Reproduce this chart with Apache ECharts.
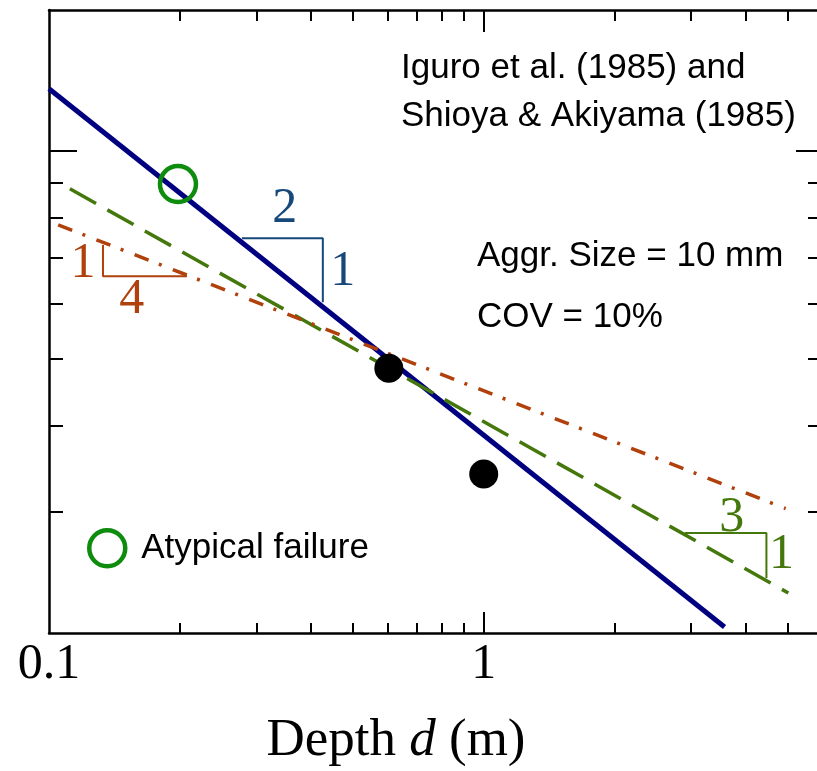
<!DOCTYPE html>
<html>
<head>
<meta charset="utf-8">
<script src="https://cdn.jsdelivr.net/npm/echarts@6/dist/echarts.min.js"></script>
<style>html,body{margin:0;padding:0;background:#fff;overflow:hidden;}#c{width:817px;height:771px;}</style>
</head>
<body>
<div id="c"></div>
<script>
// ---- axis ranges and tick values ----
const xRange = [0.1, 6];
const yRange = [0.2, 1.6];
const xLabelTicks = [0.1, 1];
const xMajorTicks = [1];
const xMinorTicks = [0.2, 0.3, 0.4, 0.5, 0.6, 0.7, 0.8, 0.9, 2, 3, 4, 5];
const yMajorTicks = [1];
const yMinorTicks = [0.3, 0.4, 0.5, 0.6, 0.7, 0.8, 0.9];

// ---- data (depth in m, normalized strength) ----
const slope2Line = [[0.1, 1.23], [3.58, 0.204]];      // solid navy, slope -1/2
const slope3Line = [[0.1117, 0.881], [5.02, 0.2286]]; // dashed green, slope -1/3
const slope4Line = [[0.105, 0.781], [4.95, 0.303]];   // dash-dot red, slope -1/4
const testPoints = [[0.605, 0.484], [1.0, 0.340]];
const atypicalPoints = [[0.198, 0.895]];

// slope triangles
const tri2 = [[0.2778, 0.747], [0.4265, 0.747], [0.4265, 0.6034]];
const tri4 = [[0.1331, 0.730], [0.1331, 0.658], [0.2077, 0.658]];
const tri3 = [[2.90, 0.2793], [4.47, 0.2793], [4.47, 0.2403]];
const tri2Labels = [{name: '2', value: [0.3487, 0.823]}, {name: '1', value: [0.474, 0.667]}];
const tri4Labels = [{name: '1', value: [0.1197, 0.685]}, {name: '4', value: [0.1551, 0.609]}];
const tri3Labels = [{name: '3', value: [3.72, 0.2938]}, {name: '1', value: [4.84, 0.2596]}];

const SANS = '"Liberation Sans", Arial, sans-serif';
const SERIF = '"Liberation Serif", "Times New Roman", serif';

function xAx(position, len, ticks, showLine, labels) {
  return {
    type: 'log', logBase: 10, position: position, min: xRange[0], max: xRange[1], offset: 0,
    axisLine: {show: showLine, onZero: false, lineStyle: {color: '#000', width: 2.5}},
    axisTick: {show: true, inside: true, length: len, customValues: ticks, lineStyle: {color: '#000', width: 2}},
    axisLabel: labels ? {show: true, customValues: labels, margin: 7, color: '#000', fontFamily: SERIF, fontSize: 50,
      formatter: function (v) { return String(+v.toPrecision(3)); }} : {show: false},
    splitLine: {show: false}, minorTick: {show: false}, minorSplitLine: {show: false}
  };
}
function yAx(position, len, ticks, showLine) {
  return {
    type: 'log', logBase: 10, position: position, min: yRange[0], max: yRange[1], offset: 0,
    axisLine: {show: showLine, onZero: false, lineStyle: {color: '#000', width: 2.5}},
    axisTick: {show: true, inside: true, length: len, customValues: ticks, lineStyle: {color: '#000', width: 2}},
    axisLabel: {show: false},
    splitLine: {show: false}, minorTick: {show: false}, minorSplitLine: {show: false}
  };
}

function lineSeries(data, color, width, type) {
  return {type: 'line', data: data, xAxisIndex: 0, yAxisIndex: 0, symbol: 'none', showSymbol: false,
    silent: true, lineStyle: {color: color, width: width, type: type, opacity: 1}, z: 3};
}
function labelSeries(data, color) {
  return {type: 'scatter', data: data, xAxisIndex: 0, yAxisIndex: 0, symbolSize: 0, silent: true, z: 6,
    itemStyle: {opacity: 1},
    label: {show: true, position: 'inside', formatter: '{b}', color: color, opacity: 1, fontFamily: SERIF, fontSize: 50}};
}

const BLUE = '#000080', GREEN = '#45780c', RED = '#b0400c', TRIBLUE = '#17487a', CIRC = '#0e8c0e';

const chart = echarts.init(document.getElementById('c'), null, {renderer: 'canvas'});
chart.setOption({
  animation: false,
  backgroundColor: '#fff',
  grid: {left: 49, width: 773, top: 10, height: 623, containLabel: false, outerBoundsMode: 'none'},
  xAxis: [
    xAx('bottom', 21, xMajorTicks, true, xLabelTicks),
    xAx('bottom', 10, xMinorTicks, false, null),
    xAx('top', 22, xMajorTicks, true, null),
    xAx('top', 11, xMinorTicks, false, null)
  ],
  yAxis: [
    yAx('left', 28, yMajorTicks, true),
    yAx('left', 14, yMinorTicks, false),
    yAx('right', 26, yMajorTicks, true),
    yAx('right', 14, yMinorTicks, false)
  ],
  legend: {
    left: 82, top: 523, itemWidth: 36, itemHeight: 36, itemGap: 10,
    data: [{name: 'Atypical failure', icon: 'circle',
      itemStyle: {color: 'rgba(0,0,0,0)', borderColor: CIRC, borderWidth: 4.5, opacity: 1}}],
    textStyle: {fontFamily: SANS, fontSize: 35, color: '#000', padding: [0, 0, 0, 11]},
    selectedMode: false
  },
  series: [
    lineSeries(slope2Line, BLUE, 5, 'solid'),
    lineSeries(slope3Line, GREEN, 3.5, [30, 13]),
    lineSeries(slope4Line, RED, 3.5, [15, 11, 3, 12]),
    lineSeries(tri2, TRIBLUE, 2, 'solid'),
    lineSeries(tri4, RED, 2, 'solid'),
    lineSeries(tri3, GREEN, 2, 'solid'),
    labelSeries(tri2Labels, TRIBLUE),
    labelSeries(tri4Labels, RED),
    labelSeries(tri3Labels, GREEN),
    {type: 'scatter', name: 'Atypical failure', data: atypicalPoints, xAxisIndex: 0, yAxisIndex: 0,
      symbol: 'circle', symbolSize: 36, z: 7,
      itemStyle: {color: 'rgba(0,0,0,0)', borderColor: CIRC, borderWidth: 4.5, opacity: 1}},
    {type: 'scatter', name: 'Tests', data: testPoints, xAxisIndex: 0, yAxisIndex: 0,
      symbol: 'circle', symbolSize: 29, z: 8, itemStyle: {color: '#000', opacity: 1}}
  ],
  graphic: [
    {type: 'text', left: 401, top: 51, z: 10, style: {text: 'Iguro et al. (1985) and', fontFamily: SANS, fontSize: 35, fill: '#000'}},
    {type: 'text', left: 401, top: 99, z: 10, style: {text: 'Shioya & Akiyama (1985)', fontFamily: SANS, fontSize: 35, fill: '#000'}},
    {type: 'text', left: 477, top: 239, z: 10, style: {text: 'Aggr. Size = 10 mm', fontFamily: SANS, fontSize: 35, fill: '#000'}},
    {type: 'text', left: 477, top: 300, z: 10, style: {text: 'COV = 10%', fontFamily: SANS, fontSize: 35, fill: '#000'}},
    {type: 'text', x: 396, y: 741, z: 10, style: {
      text: '{a|Depth }{b|d}{a| (m)}', align: 'center', verticalAlign: 'middle',
      rich: {a: {fontFamily: SERIF, fontSize: 53, fill: '#000', color: '#000'},
             b: {fontFamily: SERIF, fontSize: 53, fontStyle: 'italic', fill: '#000', color: '#000'}}}}
  ]
});
</script>
</body>
</html>
